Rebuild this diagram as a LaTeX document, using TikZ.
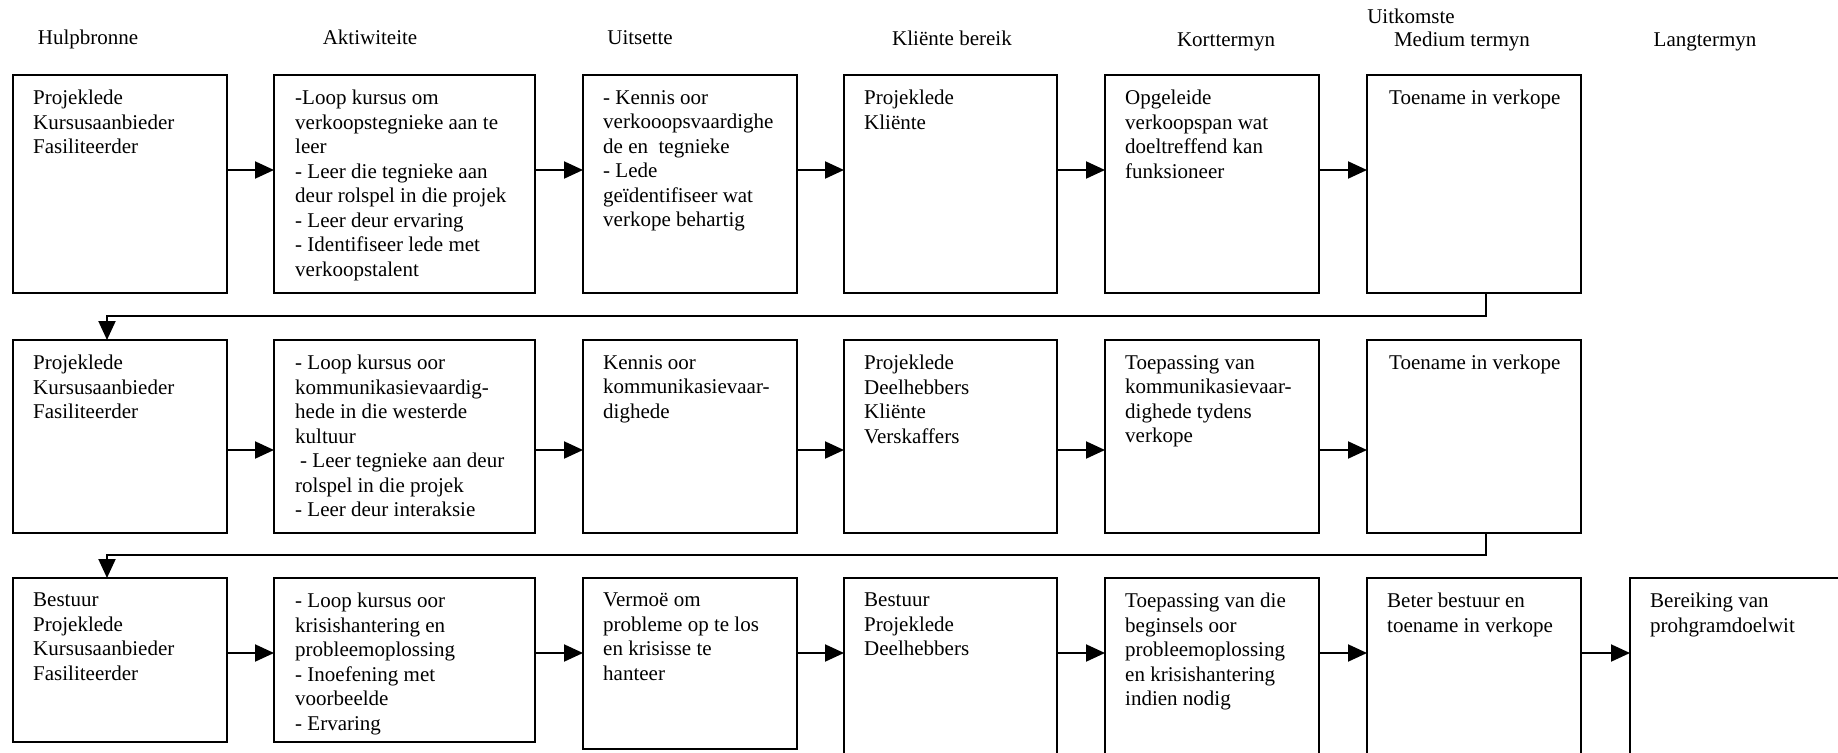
\documentclass[tikz,border=0pt]{standalone}
\usepackage{fontspec}
\setmainfont{Liberation Serif}
\usetikzlibrary{arrows.meta}
\begin{document}
\begin{tikzpicture}[x=1pt,y=-1pt,
  box/.style={draw, line width=2.2pt, anchor=north west, inner sep=0pt, outer sep=0pt},
  txt/.style={anchor=north west, align=left, inner sep=0pt, font=\fontsize{21}{24.5}\selectfont},
  head/.style={anchor=base, inner sep=0pt, font=\fontsize{21}{24.5}\selectfont},
  arr/.style={line width=2pt, -{Triangle[length=19pt,width=17pt]}},
  narrow/.style={minimum width=214pt},
  wide/.style={minimum width=261pt},
  row1/.style={minimum height=218pt},
  row2/.style={minimum height=193pt}
]
\useasboundingbox (0,0) rectangle (1838,752);
\clip (0,0) rectangle (1838,752);

% column headings
\node[head] (h1) at (88,45) {Hulpbronne};
\node[head] (h2) at (370,45) {Aktiwiteite};
\node[head] (h3) at (640,45) {Uitsette};
\node[head] (h4) at (952,46) {Kliënte bereik};
\node[head] (h5) at (1226,47) {Korttermyn};
\node[head] (h0) at (1411,24) {Uitkomste};
\node[head] (h6) at (1462,47) {Medium termyn};
\node[head] (h7) at (1705,47) {Langtermyn};

% arrow levels of the three rows
\coordinate (a1) at (0,170);
\coordinate (a2) at (0,450);
\coordinate (a3) at (0,653);

% ---------- row 1 ----------
\node[box, narrow, row1] (r1c1) at (13,75) {};
\node[box, wide,   row1] (r1c2) at (274,75) {};
\node[box, narrow, row1] (r1c3) at (583,75) {};
\node[box, narrow, row1, minimum width=213pt] (r1c4) at (844,75) {};
\node[box, narrow, row1] (r1c5) at (1105,75) {};
\node[box, narrow, row1] (r1c6) at (1367,75) {};

\node[txt] (t1c1) at ([shift={(20pt,-15pt)}]r1c1.north west)
  {Projeklede\\Kursusaanbieder\\Fasiliteerder};
\node[txt] (t1c2) at ([shift={(21pt,-15pt)}]r1c2.north west)
  {-Loop kursus om\\verkoopstegnieke aan te\\leer\\- Leer die tegnieke aan\\deur rolspel in die projek\\- Leer deur ervaring\\- Identifiseer lede met\\verkoopstalent};
\node[txt] (t1c3) at ([shift={(20pt,-15pt)}]r1c3.north west)
  {- Kennis oor\\verkooopsvaardighe\\de en\ \ tegnieke\\- Lede\\geïdentifiseer wat\\verkope behartig};
\node[txt] (t1c4) at ([shift={(20pt,-15pt)}]r1c4.north west)
  {Projeklede\\Kliënte};
\node[txt] (t1c5) at ([shift={(20pt,-15pt)}]r1c5.north west)
  {Opgeleide\\verkoopspan wat\\doeltreffend kan\\funksioneer};
\node[txt] (t1c6) at ([shift={(22pt,-15pt)}]r1c6.north west)
  {Toename in verkope};

\draw[arr] (r1c1.east |- a1) -- (r1c2.west |- a1);
\draw[arr] (r1c2.east |- a1) -- (r1c3.west |- a1);
\draw[arr] (r1c3.east |- a1) -- (r1c4.west |- a1);
\draw[arr] (r1c4.east |- a1) -- (r1c5.west |- a1);
\draw[arr] (r1c5.east |- a1) -- (r1c6.west |- a1);

% ---------- row 2 ----------
\node[box, narrow, row2] (r2c1) at (13,340) {};
\node[box, wide,   row2] (r2c2) at (274,340) {};
\node[box, narrow, row2] (r2c3) at (583,340) {};
\node[box, narrow, row2, minimum width=213pt] (r2c4) at (844,340) {};
\node[box, narrow, row2] (r2c5) at (1105,340) {};
\node[box, narrow, row2] (r2c6) at (1367,340) {};

\node[txt] (t2c1) at ([shift={(20pt,-15pt)}]r2c1.north west)
  {Projeklede\\Kursusaanbieder\\Fasiliteerder};
\node[txt] (t2c2) at ([shift={(21pt,-15pt)}]r2c2.north west)
  {- Loop kursus oor\\kommunikasievaardig-\\hede in die westerde\\kultuur\\\hspace*{5pt}- Leer tegnieke aan deur\\rolspel in die projek\\- Leer deur interaksie};
\node[txt] (t2c3) at ([shift={(20pt,-15pt)}]r2c3.north west)
  {Kennis oor\\kommunikasievaar-\\dighede};
\node[txt] (t2c4) at ([shift={(20pt,-15pt)}]r2c4.north west)
  {Projeklede\\Deelhebbers\\Kliënte\\Verskaffers};
\node[txt] (t2c5) at ([shift={(20pt,-15pt)}]r2c5.north west)
  {Toepassing van\\kommunikasievaar-\\dighede tydens\\verkope};
\node[txt] (t2c6) at ([shift={(22pt,-15pt)}]r2c6.north west)
  {Toename in verkope};

\draw[arr] (r2c1.east |- a2) -- (r2c2.west |- a2);
\draw[arr] (r2c2.east |- a2) -- (r2c3.west |- a2);
\draw[arr] (r2c3.east |- a2) -- (r2c4.west |- a2);
\draw[arr] (r2c4.east |- a2) -- (r2c5.west |- a2);
\draw[arr] (r2c5.east |- a2) -- (r2c6.west |- a2);

% ---------- row 3 ----------
\node[box, narrow, minimum height=164pt] (r3c1) at (13,578) {};
\node[box, wide,   minimum height=164pt] (r3c2) at (274,578) {};
\node[box, narrow, minimum height=171pt] (r3c3) at (583,578) {};
\node[box, narrow, minimum height=185pt, minimum width=213pt] (r3c4) at (844,578) {};
\node[box, narrow, minimum height=185pt] (r3c5) at (1105,578) {};
\node[box, narrow, minimum height=185pt] (r3c6) at (1367,578) {};
\node[box, narrow, minimum height=185pt] (r3c7) at (1630,578) {};

\node[txt] (t3c1) at ([shift={(20pt,-15pt)}]r3c1.north west)
  {Bestuur\\Projeklede\\Kursusaanbieder\\Fasiliteerder};
\node[txt] (t3c2) at ([shift={(21pt,-15pt)}]r3c2.north west)
  {- Loop kursus oor\\krisishantering en\\probleemoplossing\\- Inoefening met\\voorbeelde\\- Ervaring};
\node[txt] (t3c3) at ([shift={(20pt,-15pt)}]r3c3.north west)
  {Vermoë om\\probleme op te los\\en krisisse te\\hanteer};
\node[txt] (t3c4) at ([shift={(20pt,-15pt)}]r3c4.north west)
  {Bestuur\\Projeklede\\Deelhebbers};
\node[txt] (t3c5) at ([shift={(20pt,-15pt)}]r3c5.north west)
  {Toepassing van die\\beginsels oor\\probleemoplossing\\en krisishantering\\indien nodig};
\node[txt] (t3c6) at ([shift={(20pt,-15pt)}]r3c6.north west)
  {Beter bestuur en\\toename in verkope};
\node[txt] (t3c7) at ([shift={(20pt,-15pt)}]r3c7.north west)
  {Bereiking van\\prohgramdoelwit};

\draw[arr] (r3c1.east |- a3) -- (r3c2.west |- a3);
\draw[arr] (r3c2.east |- a3) -- (r3c3.west |- a3);
\draw[arr] (r3c3.east |- a3) -- (r3c4.west |- a3);
\draw[arr] (r3c4.east |- a3) -- (r3c5.west |- a3);
\draw[arr] (r3c5.east |- a3) -- (r3c6.west |- a3);
\draw[arr] (r3c6.east |- a3) -- (r3c7.west |- a3);

% return lines from the end of one row to the start of the next
\draw[arr] ([xshift=12pt]r1c6.south) -- ++(0,23) -| ([xshift=-13pt]r2c1.north);
\draw[arr] ([xshift=12pt]r2c6.south) -- ++(0,22) -| ([xshift=-13pt]r3c1.north);
\end{tikzpicture}
\end{document}
